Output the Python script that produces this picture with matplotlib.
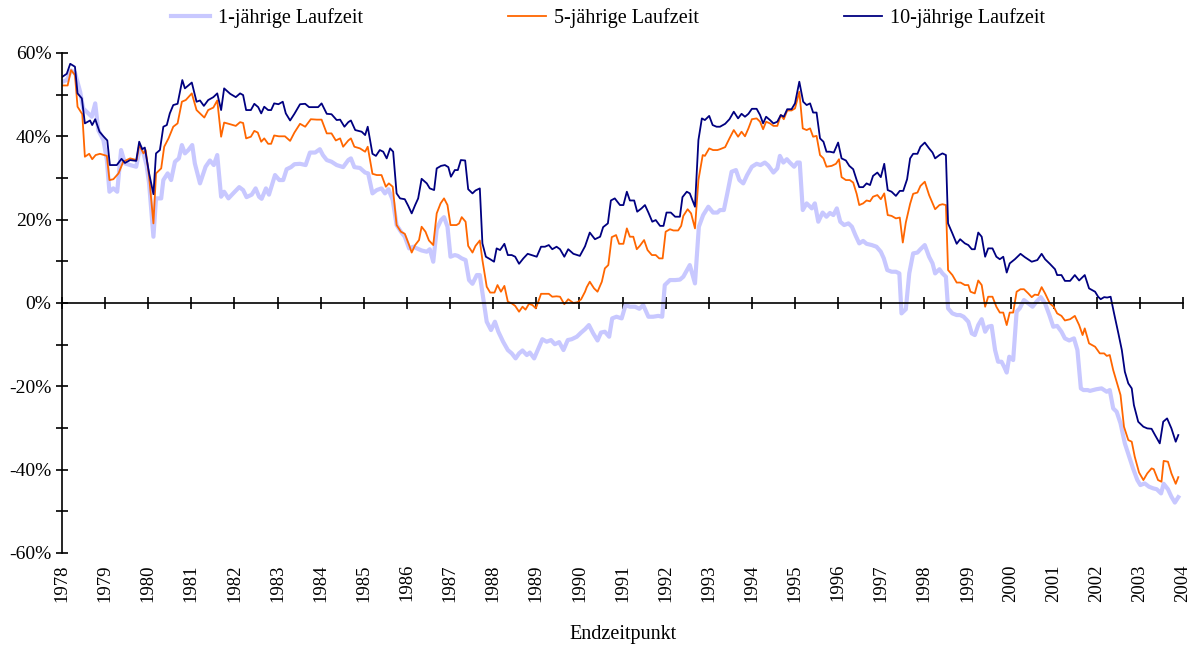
import matplotlib
matplotlib.use("Agg")
import matplotlib.pyplot as plt
from matplotlib.ticker import MultipleLocator, FuncFormatter

plt.rcParams['font.family'] = ['Liberation Serif', 'DejaVu Serif']

# Renditen (in %) je Endzeitpunkt
jahre_1j = [1978.01, 1978.11, 1978.21, 1978.30, 1978.42, 1978.49, 1978.61, 1978.69, 1978.77, 1978.84,
            1978.96, 1979.04, 1979.10, 1979.19, 1979.28, 1979.37, 1979.46, 1979.58, 1979.72, 1979.81,
            1979.89, 1979.96, 1980.02, 1980.12, 1980.18, 1980.30, 1980.35, 1980.45, 1980.53, 1980.62,
            1980.71, 1980.78, 1980.85, 1980.93, 1981.02, 1981.08, 1981.20, 1981.33, 1981.43, 1981.52,
            1981.60, 1981.69, 1981.76, 1981.86, 1981.96, 1982.11, 1982.20, 1982.28, 1982.40, 1982.49,
            1982.57, 1982.63, 1982.73, 1982.80, 1982.88, 1982.94, 1983.04, 1983.13, 1983.21, 1983.31,
            1983.39, 1983.52, 1983.65, 1983.75, 1983.87, 1983.98, 1984.05, 1984.14, 1984.25, 1984.37,
            1984.52, 1984.64, 1984.70, 1984.78, 1984.91, 1985.03, 1985.10, 1985.20, 1985.30, 1985.41,
            1985.49, 1985.57, 1985.67, 1985.76, 1985.86, 1985.95, 1986.05, 1986.15, 1986.23, 1986.34,
            1986.46, 1986.53, 1986.61, 1986.69, 1986.79, 1986.86, 1986.94, 1987.01, 1987.11, 1987.18,
            1987.27, 1987.36, 1987.44, 1987.52, 1987.62, 1987.69, 1987.77, 1987.85, 1987.95, 1988.04,
            1988.12, 1988.23, 1988.34, 1988.43, 1988.52, 1988.60, 1988.68, 1988.78, 1988.85, 1988.95,
            1989.05, 1989.14, 1989.24, 1989.34, 1989.43, 1989.53, 1989.63, 1989.73, 1989.82, 1989.94,
            1990.04, 1990.13, 1990.22, 1990.32, 1990.42, 1990.50, 1990.59, 1990.69, 1990.76, 1990.86,
            1990.98, 1991.07, 1991.17, 1991.29, 1991.39, 1991.48, 1991.60, 1991.71, 1991.83, 1991.92,
            1991.98, 1992.10, 1992.22, 1992.33, 1992.41, 1992.56, 1992.68, 1992.77, 1992.87, 1992.99,
            1993.10, 1993.20, 1993.26, 1993.35, 1993.43, 1993.53, 1993.63, 1993.71, 1993.80, 1993.89,
            1994.00, 1994.11, 1994.20, 1994.30, 1994.38, 1994.50, 1994.59, 1994.65, 1994.73, 1994.81,
            1994.88, 1994.98, 1995.05, 1995.11, 1995.18, 1995.27, 1995.39, 1995.46, 1995.54, 1995.64,
            1995.73, 1995.81, 1995.89, 1995.97, 1996.05, 1996.14, 1996.24, 1996.32, 1996.40, 1996.49,
            1996.58, 1996.66, 1996.78, 1996.89, 1996.99, 1997.06, 1997.14, 1997.24, 1997.34, 1997.42,
            1997.47, 1997.57, 1997.65, 1997.74, 1997.84, 1997.91, 1998.01, 1998.11, 1998.19, 1998.25,
            1998.35, 1998.42, 1998.50, 1998.55, 1998.65, 1998.75, 1998.83, 1998.91, 1999.02, 1999.10,
            1999.17, 1999.25, 1999.33, 1999.41, 1999.48, 1999.56, 1999.64, 1999.71, 1999.79, 1999.85,
            1999.91, 1999.97, 2000.06, 2000.14, 2000.21, 2000.31, 2000.41, 2000.51, 2000.60, 2000.70,
            2000.80, 2000.90, 2000.99, 2001.08, 2001.18, 2001.26, 2001.36, 2001.47, 2001.55, 2001.63,
            2001.69, 2001.79, 2001.84, 2001.99, 2002.11, 2002.23, 2002.30, 2002.38, 2002.46, 2002.55,
            2002.65, 2002.75, 2002.84, 2002.94, 2003.01, 2003.11, 2003.21, 2003.31, 2003.39, 2003.49,
            2003.55, 2003.65, 2003.73, 2003.81, 2003.89]
rendite_1j = [53.1, 53.5, 55.8, 55.3, 50.7, 46.7, 45.5, 44.7, 47.9, 41.5,
              39.1, 34.3, 26.7, 27.5, 26.7, 36.7, 33.5, 33.1, 32.7, 37.5,
              35.9, 33.1, 28.7, 15.9, 25.1, 25.1, 29.5, 31.1, 29.5, 33.9,
              34.7, 37.9, 35.9, 36.7, 37.9, 33.5, 28.7, 32.7, 34.2, 33.1,
              35.5, 25.5, 26.7, 25.1, 26.2, 27.8, 27.1, 25.4, 26.0, 27.5,
              25.5, 25.0, 27.5, 26.0, 28.7, 30.7, 29.5, 29.5, 32.1, 32.6,
              33.3, 33.4, 33.1, 36.1, 36.1, 36.9, 35.5, 34.3, 33.9, 33.1,
              32.6, 34.3, 34.7, 32.6, 32.4, 31.3, 31.1, 26.3, 27.1, 27.5,
              26.3, 27.3, 24.7, 18.7, 17.1, 15.9, 13.1, 13.5, 13.1, 12.6,
              12.3, 12.9, 9.9, 17.7, 19.9, 20.6, 18.3, 11.1, 11.5, 11.3,
              10.7, 10.3, 5.5, 4.6, 6.7, 6.7, 1.1, -4.5, -6.5, -4.5,
              -6.9, -9.3, -11.3, -12.1, -13.3, -12.1, -11.4, -12.5, -11.9, -13.3,
              -10.9, -8.7, -9.3, -8.9, -9.9, -9.4, -11.3, -8.9, -8.7, -8.1,
              -7.1, -6.3, -5.3, -7.3, -9.0, -7.1, -6.9, -8.1, -3.7, -3.3,
              -3.7, -0.5, -0.9, -0.9, -1.4, -0.5, -3.3, -3.3, -3.1, -3.3,
              4.3, 5.5, 5.5, 5.6, 6.3, 9.1, 4.7, 18.3, 21.1, 23.1,
              21.7, 21.7, 22.3, 22.3, 26.3, 31.5, 31.9, 29.5, 28.7, 30.7,
              32.7, 33.4, 33.1, 33.7, 33.0, 31.3, 32.3, 35.3, 33.7, 34.5,
              33.7, 32.7, 33.7, 33.7, 22.3, 23.9, 22.7, 23.9, 19.5, 21.7,
              20.7, 21.6, 21.1, 22.7, 19.5, 18.7, 19.1, 18.3, 16.3, 14.3,
              14.9, 14.2, 13.9, 13.5, 12.3, 10.7, 7.9, 7.5, 7.5, 7.1,
              -2.5, -1.5, 7.1, 11.9, 12.1, 12.9, 13.9, 11.1, 9.5, 7.1,
              8.1, 7.1, 6.3, -1.3, -2.5, -2.9, -2.9, -3.3, -4.5, -7.3,
              -7.7, -5.3, -3.9, -6.9, -5.7, -5.5, -11.3, -14.1, -14.1, -15.3,
              -16.7, -12.9, -13.7, -2.1, -1.3, 0.7, -0.1, -0.9, 0.3, 1.4,
              -0.1, -2.9, -5.7, -5.5, -6.9, -8.5, -9.0, -8.5, -11.3, -20.5,
              -20.9, -20.9, -21.1, -20.7, -20.5, -21.3, -20.9, -25.3, -26.1, -28.9,
              -33.7, -36.9, -39.7, -42.5, -43.7, -43.3, -44.1, -44.5, -44.7, -45.7,
              -43.4, -44.7, -46.5, -47.9, -46.6]

jahre_5j = [1978.01, 1978.13, 1978.21, 1978.30, 1978.36, 1978.47, 1978.53, 1978.63, 1978.70, 1978.78,
            1978.88, 1979.04, 1979.10, 1979.19, 1979.31, 1979.42, 1979.58, 1979.73, 1979.79, 1979.89,
            1979.94, 1980.02, 1980.12, 1980.18, 1980.30, 1980.37, 1980.47, 1980.58, 1980.68, 1980.78,
            1980.87, 1981.01, 1981.12, 1981.30, 1981.39, 1981.51, 1981.60, 1981.69, 1981.76, 1981.90,
            1982.03, 1982.13, 1982.20, 1982.27, 1982.38, 1982.46, 1982.54, 1982.62, 1982.69, 1982.78,
            1982.85, 1982.92, 1983.03, 1983.17, 1983.29, 1983.39, 1983.52, 1983.64, 1983.77, 1983.91,
            1984.02, 1984.14, 1984.25, 1984.35, 1984.45, 1984.52, 1984.64, 1984.70, 1984.78, 1984.91,
            1985.03, 1985.09, 1985.20, 1985.30, 1985.41, 1985.51, 1985.58, 1985.67, 1985.76, 1985.86,
            1985.95, 1986.05, 1986.11, 1986.19, 1986.28, 1986.34, 1986.43, 1986.51, 1986.61, 1986.69,
            1986.78, 1986.86, 1986.94, 1987.01, 1987.15, 1987.21, 1987.27, 1987.36, 1987.42, 1987.52,
            1987.59, 1987.69, 1987.75, 1987.85, 1987.93, 1988.03, 1988.10, 1988.18, 1988.26, 1988.34,
            1988.43, 1988.51, 1988.60, 1988.68, 1988.75, 1988.83, 1988.91, 1988.99, 1989.11, 1989.20,
            1989.29, 1989.37, 1989.47, 1989.55, 1989.65, 1989.74, 1989.86, 1989.96, 1990.04, 1990.13,
            1990.17, 1990.24, 1990.34, 1990.42, 1990.52, 1990.59, 1990.67, 1990.75, 1990.85, 1990.92,
            1991.02, 1991.10, 1991.17, 1991.25, 1991.33, 1991.40, 1991.50, 1991.58, 1991.68, 1991.77,
            1991.85, 1991.93, 1992.00, 1992.10, 1992.18, 1992.29, 1992.36, 1992.41, 1992.51, 1992.59,
            1992.68, 1992.76, 1992.86, 1992.91, 1993.01, 1993.10, 1993.20, 1993.26, 1993.38, 1993.48,
            1993.58, 1993.68, 1993.76, 1993.84, 1993.92, 1994.00, 1994.11, 1994.19, 1994.26, 1994.33,
            1994.42, 1994.50, 1994.59, 1994.67, 1994.74, 1994.82, 1994.92, 1995.00, 1995.10, 1995.18,
            1995.27, 1995.35, 1995.42, 1995.50, 1995.58, 1995.66, 1995.73, 1995.85, 1995.95, 1996.02,
            1996.08, 1996.18, 1996.27, 1996.35, 1996.43, 1996.49, 1996.58, 1996.66, 1996.74, 1996.81,
            1996.91, 1996.99, 1997.07, 1997.15, 1997.24, 1997.34, 1997.43, 1997.50, 1997.57, 1997.67,
            1997.74, 1997.84, 1997.91, 1998.01, 1998.11, 1998.25, 1998.35, 1998.42, 1998.50, 1998.55,
            1998.65, 1998.75, 1998.84, 1998.94, 1999.02, 1999.07, 1999.17, 1999.25, 1999.33, 1999.41,
            1999.48, 1999.58, 1999.67, 1999.75, 1999.83, 1999.91, 1999.98, 2000.06, 2000.14, 2000.23,
            2000.31, 2000.41, 2000.49, 2000.56, 2000.64, 2000.72, 2000.80, 2000.91, 2001.00, 2001.08,
            2001.18, 2001.26, 2001.38, 2001.49, 2001.59, 2001.67, 2001.72, 2001.82, 2001.96, 2002.07,
            2002.17, 2002.23, 2002.30, 2002.38, 2002.46, 2002.55, 2002.63, 2002.73, 2002.81, 2002.88,
            2002.98, 2003.08, 2003.17, 2003.27, 2003.32, 2003.42, 2003.50, 2003.55, 2003.65, 2003.73,
            2003.83, 2003.89]
rendite_5j = [52.2, 52.2, 55.9, 54.7, 47.1, 45.3, 35.1, 35.8, 34.5, 35.5,
              35.8, 35.3, 29.5, 29.7, 31.1, 33.9, 34.7, 34.3, 37.9, 35.9,
              36.7, 30.3, 19.1, 31.1, 32.3, 37.5, 39.5, 42.3, 43.1, 48.3,
              48.7, 50.3, 46.3, 44.5, 46.3, 46.9, 48.6, 39.9, 43.3, 42.9,
              42.5, 43.4, 43.2, 39.5, 39.9, 41.3, 40.9, 38.7, 39.5, 38.2,
              38.2, 40.2, 40.0, 40.0, 38.9, 40.9, 43.0, 42.3, 44.1, 44.0,
              44.0, 40.7, 40.7, 39.0, 39.5, 37.5, 39.0, 39.5, 37.5, 37.1,
              36.3, 37.5, 31.0, 30.7, 30.7, 27.9, 28.7, 27.9, 18.7, 17.1,
              16.6, 13.9, 12.1, 13.9, 15.1, 18.3, 17.1, 15.0, 13.9, 21.5,
              23.9, 25.1, 23.5, 18.7, 18.7, 19.1, 20.6, 19.5, 13.7, 12.1,
              13.7, 15.0, 10.3, 3.9, 2.5, 2.5, 4.3, 2.7, 4.1, 0.3,
              -0.1, -0.7, -2.1, -0.9, -1.6, -0.2, -0.5, -1.3, 2.2, 2.2,
              2.2, 1.5, 1.6, 1.5, -0.3, 0.9, 0.0, 0.2, 0.9, 2.7,
              3.8, 5.1, 3.5, 2.7, 5.1, 8.3, 9.1, 15.8, 16.3, 14.2,
              14.2, 17.9, 15.9, 15.9, 12.9, 13.7, 15.1, 12.7, 11.5, 11.5,
              10.7, 10.7, 17.1, 17.7, 17.4, 17.4, 18.5, 20.9, 22.5, 21.5,
              17.9, 29.5, 35.5, 35.3, 37.1, 36.7, 36.7, 36.9, 37.4, 39.5,
              41.5, 39.9, 41.1, 40.0, 41.9, 44.1, 44.3, 43.5, 41.7, 43.5,
              43.1, 42.5, 42.5, 45.1, 44.1, 46.2, 46.2, 46.7, 50.7, 41.9,
              41.5, 41.9, 39.9, 40.1, 35.5, 34.7, 32.7, 32.9, 33.4, 34.5,
              30.2, 29.5, 29.5, 28.9, 26.2, 23.5, 23.9, 24.6, 24.4, 25.5,
              25.9, 24.9, 26.3, 21.1, 20.9, 20.3, 20.5, 14.5, 19.3, 23.8,
              26.2, 26.5, 28.1, 29.1, 25.9, 22.5, 23.5, 23.7, 23.5, 7.9,
              6.7, 4.9, 4.9, 4.3, 4.3, 2.7, 2.3, 5.4, 4.3, -0.9,
              1.5, 1.5, -0.9, -2.3, -2.3, -5.3, -2.3, -2.3, 2.7, 3.3,
              3.3, 2.3, 1.4, 2.0, 1.9, 3.8, 2.3, -0.1, -0.9, -2.5,
              -3.1, -4.2, -3.9, -3.1, -5.3, -7.7, -6.1, -9.7, -10.5, -12.1,
              -12.1, -12.7, -12.5, -16.1, -18.9, -22.1, -29.7, -32.9, -33.3, -36.9,
              -40.7, -42.5, -40.9, -39.7, -39.9, -42.5, -42.9, -37.9, -38.1, -40.9,
              -43.4, -41.8]

jahre_10j = [1978.01, 1978.11, 1978.19, 1978.30, 1978.36, 1978.46, 1978.53, 1978.65, 1978.70, 1978.77,
             1978.87, 1978.96, 1979.05, 1979.11, 1979.27, 1979.38, 1979.46, 1979.58, 1979.72, 1979.79,
             1979.86, 1979.92, 1980.02, 1980.12, 1980.18, 1980.27, 1980.35, 1980.43, 1980.50, 1980.58,
             1980.68, 1980.79, 1980.85, 1981.01, 1981.12, 1981.20, 1981.29, 1981.39, 1981.51, 1981.60,
             1981.69, 1981.76, 1981.90, 1982.03, 1982.13, 1982.20, 1982.27, 1982.38, 1982.46, 1982.55,
             1982.62, 1982.69, 1982.78, 1982.85, 1982.92, 1983.02, 1983.12, 1983.19, 1983.29, 1983.39,
             1983.52, 1983.64, 1983.73, 1983.83, 1983.94, 1984.02, 1984.14, 1984.25, 1984.37, 1984.45,
             1984.55, 1984.64, 1984.70, 1984.80, 1984.95, 1985.03, 1985.09, 1985.20, 1985.28, 1985.37,
             1985.45, 1985.53, 1985.61, 1985.68, 1985.76, 1985.84, 1985.95, 1986.03, 1986.11, 1986.19,
             1986.26, 1986.34, 1986.46, 1986.53, 1986.63, 1986.69, 1986.79, 1986.88, 1986.96, 1987.02,
             1987.11, 1987.18, 1987.25, 1987.35, 1987.42, 1987.52, 1987.59, 1987.69, 1987.75, 1987.83,
             1987.93, 1988.02, 1988.08, 1988.16, 1988.26, 1988.34, 1988.43, 1988.51, 1988.60, 1988.70,
             1988.80, 1988.89, 1989.01, 1989.11, 1989.20, 1989.29, 1989.37, 1989.47, 1989.55, 1989.65,
             1989.74, 1989.86, 1990.01, 1990.13, 1990.24, 1990.36, 1990.48, 1990.55, 1990.66, 1990.73,
             1990.82, 1990.94, 1991.02, 1991.10, 1991.17, 1991.27, 1991.34, 1991.44, 1991.52, 1991.60,
             1991.69, 1991.77, 1991.87, 1991.95, 1992.02, 1992.12, 1992.22, 1992.33, 1992.39, 1992.49,
             1992.56, 1992.68, 1992.76, 1992.84, 1992.91, 1993.01, 1993.09, 1993.18, 1993.26, 1993.38,
             1993.48, 1993.58, 1993.68, 1993.76, 1993.84, 1993.92, 1994.00, 1994.11, 1994.19, 1994.26,
             1994.33, 1994.42, 1994.50, 1994.59, 1994.67, 1994.74, 1994.82, 1994.92, 1995.00, 1995.10,
             1995.19, 1995.27, 1995.35, 1995.42, 1995.50, 1995.58, 1995.66, 1995.73, 1995.81, 1995.90,
             1996.00, 1996.08, 1996.18, 1996.26, 1996.35, 1996.43, 1996.49, 1996.58, 1996.66, 1996.74,
             1996.81, 1996.91, 1996.99, 1997.07, 1997.15, 1997.24, 1997.34, 1997.43, 1997.51, 1997.60,
             1997.67, 1997.74, 1997.84, 1997.91, 1998.01, 1998.11, 1998.19, 1998.25, 1998.35, 1998.42,
             1998.50, 1998.55, 1998.65, 1998.75, 1998.83, 1998.94, 1999.02, 1999.10, 1999.17, 1999.25,
             1999.33, 1999.41, 1999.48, 1999.58, 1999.67, 1999.75, 1999.83, 1999.91, 1999.98, 2000.10,
             2000.23, 2000.33, 2000.49, 2000.62, 2000.72, 2000.80, 2000.91, 2001.03, 2001.08, 2001.18,
             2001.26, 2001.38, 2001.49, 2001.59, 2001.72, 2001.82, 2001.96, 2002.03, 2002.09, 2002.17,
             2002.24, 2002.32, 2002.40, 2002.50, 2002.58, 2002.65, 2002.73, 2002.81, 2002.86, 2002.96,
             2003.08, 2003.17, 2003.27, 2003.35, 2003.46, 2003.54, 2003.63, 2003.73, 2003.83, 2003.89]
rendite_10j = [54.3, 55.0, 57.4, 56.7, 50.3, 49.1, 43.1, 43.8, 42.7, 44.1,
               41.1, 40.0, 39.0, 33.1, 33.1, 34.6, 33.6, 34.3, 34.1, 38.7,
               36.9, 37.3, 31.1, 26.1, 35.9, 36.7, 42.3, 42.7, 45.5, 47.5,
               47.8, 53.5, 51.5, 52.9, 48.3, 48.6, 47.3, 48.7, 49.4, 50.3,
               46.3, 51.5, 50.2, 49.4, 50.3, 49.9, 46.3, 46.3, 47.8, 47.0,
               45.5, 47.1, 46.3, 46.3, 47.9, 47.7, 48.3, 45.5, 43.8, 45.4,
               47.7, 47.8, 47.0, 47.0, 47.0, 47.9, 45.4, 45.3, 43.9, 44.0,
               42.3, 43.4, 43.8, 41.5, 41.1, 40.3, 42.3, 35.8, 35.3, 36.7,
               36.3, 34.7, 37.1, 36.3, 26.3, 25.1, 24.9, 23.3, 21.5, 23.5,
               25.1, 29.8, 28.7, 27.5, 27.1, 32.3, 32.9, 33.1, 32.6, 30.3,
               31.9, 31.9, 34.3, 34.2, 27.3, 26.3, 27.0, 27.5, 14.3, 11.1,
               10.5, 9.9, 13.1, 12.7, 14.2, 11.5, 11.5, 11.1, 9.4, 10.7,
               11.8, 11.5, 11.1, 13.5, 13.5, 13.9, 12.9, 13.5, 12.9, 11.1,
               12.9, 11.8, 11.3, 13.6, 16.9, 15.3, 15.9, 18.2, 19.1, 24.6,
               25.1, 23.5, 23.5, 26.7, 24.6, 24.6, 21.9, 22.7, 23.5, 21.7,
               19.5, 19.9, 18.5, 18.5, 21.7, 21.7, 20.7, 20.7, 25.4, 26.7,
               26.3, 23.1, 39.1, 44.3, 43.9, 44.9, 42.7, 42.3, 42.3, 43.0,
               44.1, 45.9, 44.3, 45.4, 44.7, 45.4, 46.6, 46.6, 45.1, 43.1,
               44.7, 43.9, 43.1, 43.5, 45.1, 44.7, 46.5, 46.5, 47.9, 53.1,
               48.3, 47.5, 47.9, 45.7, 45.7, 39.5, 38.7, 36.3, 36.3, 36.1,
               38.5, 34.7, 34.2, 32.9, 32.1, 29.5, 27.8, 27.8, 28.7, 28.3,
               30.5, 31.3, 30.2, 33.4, 27.1, 26.7, 25.7, 26.9, 26.9, 29.7,
               34.7, 35.8, 35.8, 37.5, 38.5, 37.1, 36.1, 34.7, 35.5, 35.9,
               35.5, 19.1, 16.7, 14.2, 15.3, 14.3, 13.9, 12.9, 12.9, 16.9,
               15.9, 11.1, 13.1, 13.1, 11.1, 10.5, 11.1, 7.3, 9.5, 10.5,
               11.8, 11.0, 9.9, 10.3, 11.8, 10.5, 9.4, 8.1, 6.7, 6.7,
               5.3, 5.3, 6.7, 5.4, 6.7, 3.5, 2.7, 1.5, 0.9, 1.4,
               1.3, 1.5, -2.5, -7.3, -11.3, -16.5, -19.3, -20.5, -24.5, -28.5,
               -29.7, -30.1, -30.2, -31.7, -33.7, -28.5, -27.7, -30.1, -33.3, -31.7]

serien = ['1-jährige Laufzeit', '5-jährige Laufzeit', '10-jährige Laufzeit']
farben = ['#C8C8FF', '#FF6600', '#000080']
jahres_ticks = list(range(1978, 2005))

fig = plt.figure(figsize=(11.95, 6.46), dpi=100)
ax = fig.add_axes([0.0519, 0.144, 0.9381, 0.774])

ax.plot(jahre_1j, rendite_1j, color=farben[0], lw=3.0, label=serien[0], solid_joinstyle='round')
ax.plot(jahre_5j, rendite_5j, color=farben[1], lw=1.3, label=serien[1])
ax.plot(jahre_10j, rendite_10j, color=farben[2], lw=1.3, label=serien[2])

ax.set_xlim(1978, 2004)
ax.set_ylim(-60, 60)

# x-Achse liegt auf der Nulllinie
ax.spines['bottom'].set_position(('data', 0))
ax.spines['top'].set_visible(False)
ax.spines['right'].set_visible(False)
for sp in ['bottom', 'left']:
    ax.spines[sp].set_linewidth(1.2)

ax.set_xticks(jahres_ticks)
ax.tick_params(axis='x', direction='inout', length=9, width=1.2, labelbottom=False)

ax.yaxis.set_major_locator(MultipleLocator(20))
ax.yaxis.set_minor_locator(MultipleLocator(10))
ax.yaxis.set_major_formatter(FuncFormatter(lambda v, p: f'{v:.0f}%'))
ax.tick_params(axis='y', which='both', direction='inout', length=8, width=1.2, labelsize=14)

# Jahreszahlen unten am Diagrammrand
sec = ax.secondary_xaxis('bottom')
sec.set_xticks(jahres_ticks)
sec.tick_params(length=0, pad=8, labelsize=13.5, labelrotation=90)
sec.spines['bottom'].set_visible(False)
sec.set_xlabel('Endzeitpunkt', fontsize=14.5, labelpad=17)

ax.legend(loc='center', bbox_to_anchor=(0.509, 0.972), bbox_transform=fig.transFigure,
          ncol=3, frameon=False, fontsize=14.5, handlelength=1.9, columnspacing=7.2,
          handletextpad=0.4)

fig.savefig('out.png', dpi=100)
